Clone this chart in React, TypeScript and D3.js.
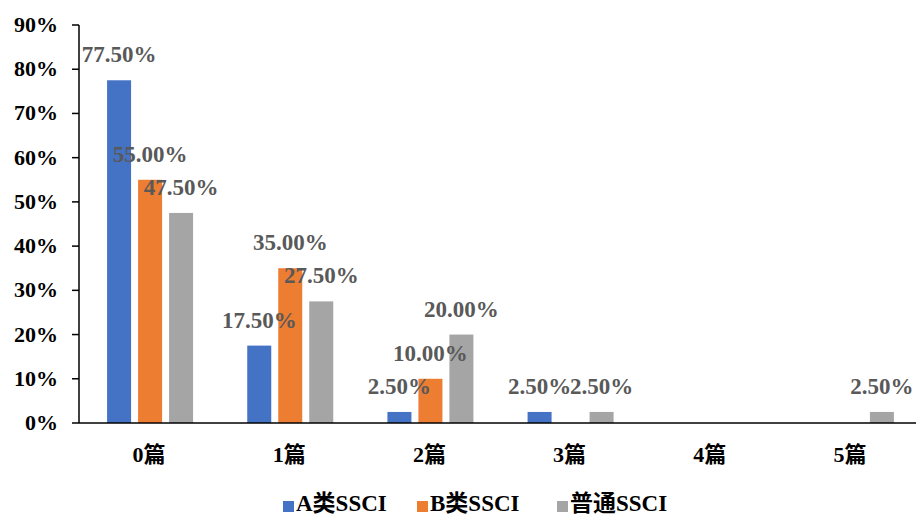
import React from "react";
import * as d3 from "d3";

const categories = ["0篇", "1篇", "2篇", "3篇", "4篇", "5篇"];
const seriesNames = ["A类SSCI", "B类SSCI", "普通SSCI"];
const seriesA = [77.5, 17.5, 2.5, 2.5, 0, 0];
const seriesB = [55, 35, 10, 0, 0, 0];
const seriesC = [47.5, 27.5, 20, 2.5, 0, 2.5];
const yTicks = [0, 10, 20, 30, 40, 50, 60, 70, 80, 90];
const colors = ["#4472C4", "#ED7D31", "#A5A5A5"];

const W = 916;
const H = 515;
const left = 79;
const right = 920;
const top = 25;
const bottom = 423;

const serif = "'Liberation Serif', 'Times New Roman', 'Noto Sans CJK SC', serif";

export default function App() {
  const series = [seriesA, seriesB, seriesC];
  const x = d3.scaleBand<string>().domain(categories).range([left, right]).paddingInner(0).paddingOuter(0);
  const bw = x.bandwidth();
  const inner = d3
    .scaleBand<number>()
    .domain([0, 1, 2])
    .range([bw / 2 - 42, bw / 2 + 44])
    .paddingInner(7 / 31)
    .paddingOuter(0);
  const y = d3.scaleLinear().domain([0, 90]).range([bottom, top]);

  return (
    <svg width={W} height={H} style={{ position: "absolute", left: 0, top: 0, background: "#fff" }}>
      <rect x={0} y={0} width={W} height={H} fill="#fff" />
      {series.map((vals, si) =>
        vals.map((v, ci) =>
          v > 0 ? (
            <rect
              key={`b${si}-${ci}`}
              x={(x(categories[ci]) ?? 0) + (inner(si) ?? 0)}
              y={y(v)}
              width={inner.bandwidth()}
              height={y(0) - y(v)}
              fill={colors[si]}
            />
          ) : null
        )
      )}
      <line x1={left} x2={right} y1={bottom} y2={bottom} stroke="#000" strokeWidth={1.5} />
      <line x1={left} x2={left} y1={top} y2={bottom} stroke="#000" strokeWidth={1.5} />
      {yTicks.map((t) => (
        <g key={`t${t}`}>
          <line x1={left - 7} x2={left} y1={y(t)} y2={y(t)} stroke="#000" strokeWidth={1.5} />
          <text
            x={58}
            y={y(t) + 7}
            textAnchor="end"
            fontFamily={serif}
            fontWeight="bold"
            fontSize={22}
            fill="#000"
          >
            {t}%
          </text>
        </g>
      ))}
      {categories.map((c) => (
        <text
          key={`c${c}`}
          x={(x(c) ?? 0) + bw / 2}
          y={462}
          textAnchor="middle"
          fontFamily={serif}
          fontWeight="bold"
          fontSize={22}
          fill="#000"
        >
          {c}
        </text>
      ))}
      {series.map((vals, si) =>
        vals.map((v, ci) =>
          v > 0 ? (
            <text
              key={`l${si}-${ci}`}
              x={(x(categories[ci]) ?? 0) + (inner(si) ?? 0) + inner.bandwidth() / 2}
              y={y(v) - 18}
              textAnchor="middle"
              fontFamily={serif}
              fontWeight="bold"
              fontSize={23}
              fill="#595959"
            >
              {v.toFixed(2)}%
            </text>
          ) : null
        )
      )}
      {seriesNames.map((n, i) => {
        const lx = [283, 417, 557][i];
        return (
          <g key={`lg${i}`}>
            <rect x={lx} y={501} width={11} height={11} fill={colors[i]} />
            <text x={lx + 13} y={511} fontFamily={serif} fontWeight="bold" fontSize={23} fill="#000">
              {n}
            </text>
          </g>
        );
      })}
    </svg>
  );
}
